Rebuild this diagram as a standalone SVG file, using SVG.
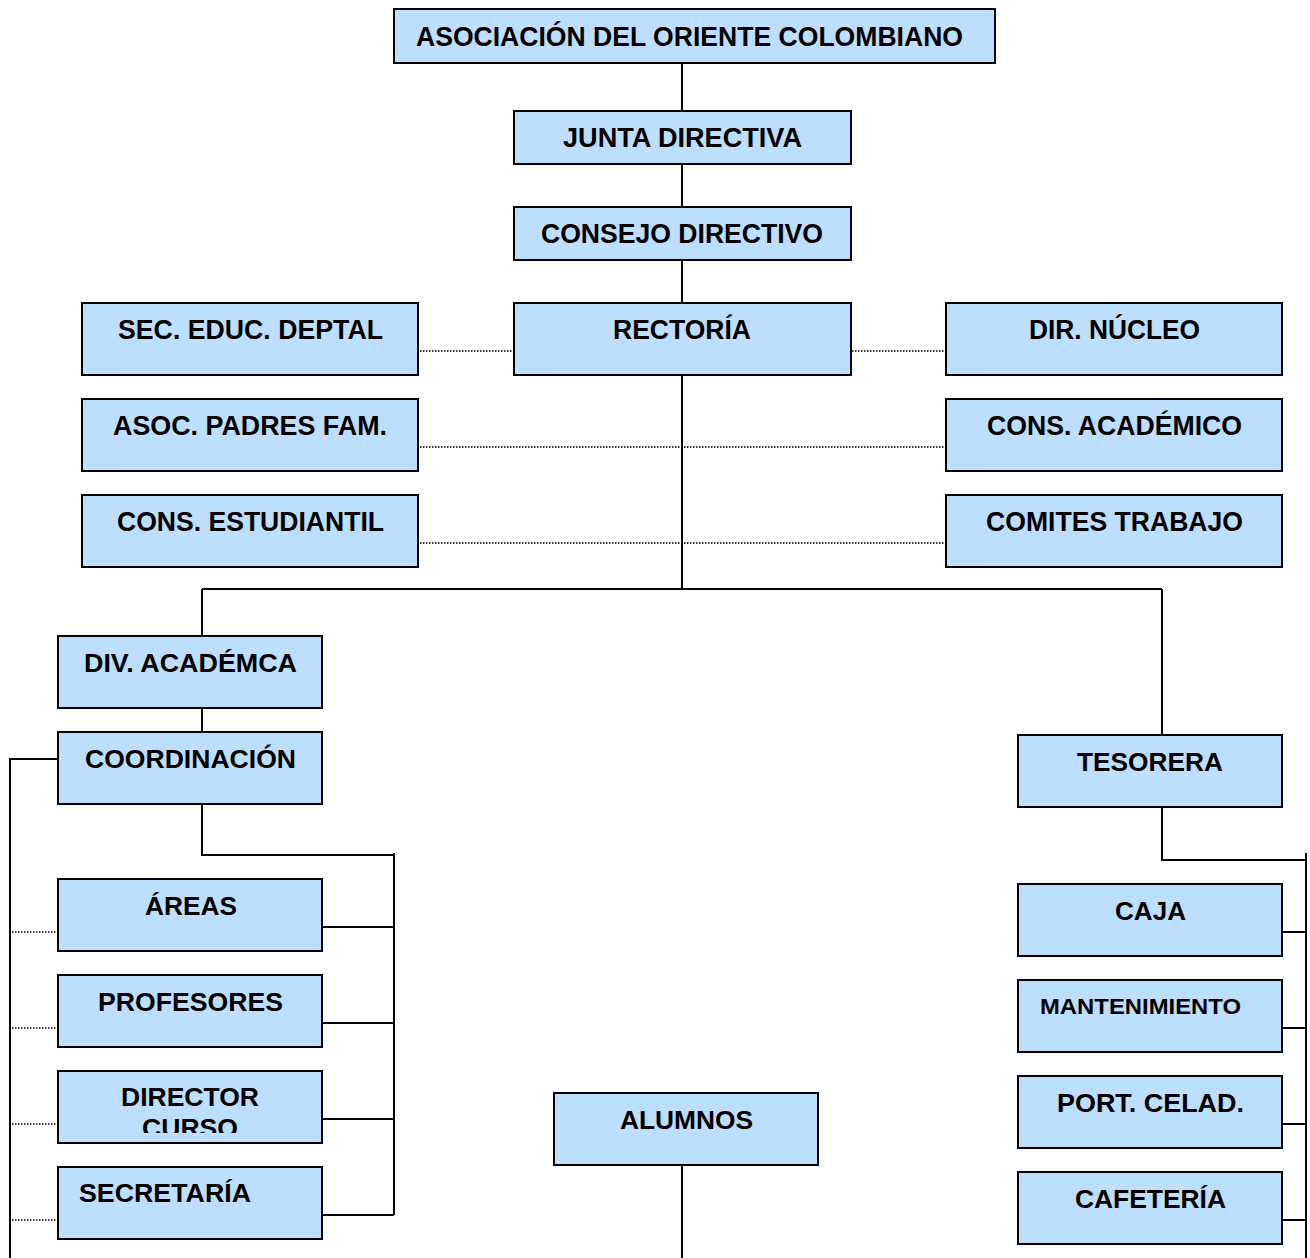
<svg xmlns="http://www.w3.org/2000/svg" width="1310" height="1258" viewBox="0 0 1310 1258">
<style>
.box{fill:#BDDEFC;stroke:#000;stroke-width:2}
.ln{fill:none;stroke:#000;stroke-width:2}
.dot{fill:none;stroke:#000;stroke-width:1.5;stroke-dasharray:1.5 1.5}
.n{font-family:"Liberation Sans Narrow","Liberation Sans",Arial,sans-serif;font-weight:bold;font-size:27px;fill:#000}
.w{font-family:"Liberation Sans",Arial,sans-serif;font-weight:bold;font-size:25px;fill:#000}
.s{font-family:"Liberation Sans",Arial,sans-serif;font-weight:bold;font-size:22px;fill:#000}
</style>
<defs>
<clipPath id="clipDir"><rect x="59" y="1072" width="262" height="61"/></clipPath>
</defs>
<rect width="1310" height="1258" fill="#fff"/>
<g id="connectors">
<path class="ln" d="M682 63V111M682 164V207M682 256V303M682 375V589M202 589H1162M202 589V636M1162 589V735"/>
<path class="ln" d="M202 708V732M58 759H10V1258M202 804V855H394M394 853V1215M322 927H394M322 1023H394M322 1119H394M322 1215H394"/>
<path class="ln" d="M1162 807V860H1306M1306 853V1258M1282 932H1306M1282 1028H1306M1282 1124H1306M1282 1220H1306"/>
<path class="ln" d="M682 1165V1258"/>
<path class="dot" d="M420 351H513M852 351H945M420 447H945M420 543H945"/>
<path class="dot" d="M12 932H57M12 1028H57M12 1124H57M12 1220H57"/>
</g>
<g id="n-asoc"><rect class="box" x="394" y="9" width="601" height="54"/><text class="n" x="416" y="46" textLength="547" lengthAdjust="spacingAndGlyphs">ASOCIACIÓN DEL ORIENTE COLOMBIANO</text></g>
<g id="n-junta"><rect class="box" x="514" y="111" width="337" height="53"/><text class="n" x="563" y="147" textLength="239" lengthAdjust="spacingAndGlyphs">JUNTA DIRECTIVA</text></g>
<g id="n-consejo"><rect class="box" x="514" y="207" width="337" height="53"/><text class="n" x="541" y="243" textLength="282" lengthAdjust="spacingAndGlyphs">CONSEJO DIRECTIVO</text></g>
<g id="n-rectoria"><rect class="box" x="514" y="303" width="337" height="72"/><text class="n" x="613" y="339" textLength="138" lengthAdjust="spacingAndGlyphs">RECTORÍA</text></g>
<g id="n-sec"><rect class="box" x="82" y="303" width="336" height="72"/><text class="n" x="118" y="339" textLength="265" lengthAdjust="spacingAndGlyphs">SEC. EDUC. DEPTAL</text></g>
<g id="n-dir"><rect class="box" x="946" y="303" width="336" height="72"/><text class="n" x="1029" y="339" textLength="171" lengthAdjust="spacingAndGlyphs">DIR. NÚCLEO</text></g>
<g id="n-padres"><rect class="box" x="82" y="399" width="336" height="72"/><text class="n" x="113" y="435" textLength="274" lengthAdjust="spacingAndGlyphs">ASOC. PADRES FAM.</text></g>
<g id="n-academico"><rect class="box" x="946" y="399" width="336" height="72"/><text class="n" x="987" y="435" textLength="255" lengthAdjust="spacingAndGlyphs">CONS. ACADÉMICO</text></g>
<g id="n-estudiantil"><rect class="box" x="82" y="495" width="336" height="72"/><text class="n" x="117" y="531" textLength="267" lengthAdjust="spacingAndGlyphs">CONS. ESTUDIANTIL</text></g>
<g id="n-comites"><rect class="box" x="946" y="495" width="336" height="72"/><text class="n" x="986" y="531" textLength="257" lengthAdjust="spacingAndGlyphs">COMITES TRABAJO</text></g>
<g id="n-div"><rect class="box" x="58" y="636" width="264" height="72"/><text class="w" x="84" y="672" textLength="213" lengthAdjust="spacingAndGlyphs">DIV. ACADÉMCA</text></g>
<g id="n-coord"><rect class="box" x="58" y="732" width="264" height="72"/><text class="w" x="85" y="768" textLength="211" lengthAdjust="spacingAndGlyphs">COORDINACIÓN</text></g>
<g id="n-areas"><rect class="box" x="58" y="879" width="264" height="72"/><text class="w" x="145" y="915" textLength="92" lengthAdjust="spacingAndGlyphs">ÁREAS</text></g>
<g id="n-prof"><rect class="box" x="58" y="975" width="264" height="72"/><text class="w" x="98" y="1011" textLength="185" lengthAdjust="spacingAndGlyphs">PROFESORES</text></g>
<g id="n-dircurso"><rect class="box" x="58" y="1071" width="264" height="72"/><g clip-path="url(#clipDir)"><text class="w" x="121" y="1106" textLength="138" lengthAdjust="spacingAndGlyphs">DIRECTOR</text><text class="w" x="142" y="1137" textLength="96" lengthAdjust="spacingAndGlyphs">CURSO</text></g></g>
<g id="n-secretaria"><rect class="box" x="58" y="1167" width="264" height="72"/><text class="w" x="79" y="1202" textLength="172" lengthAdjust="spacingAndGlyphs">SECRETARÍA</text></g>
<g id="n-tesorera"><rect class="box" x="1018" y="735" width="264" height="72"/><text class="w" x="1077" y="771" textLength="146" lengthAdjust="spacingAndGlyphs">TESORERA</text></g>
<g id="n-caja"><rect class="box" x="1018" y="884" width="264" height="72"/><text class="w" x="1115" y="920" textLength="71" lengthAdjust="spacingAndGlyphs">CAJA</text></g>
<g id="n-mant"><rect class="box" x="1018" y="980" width="264" height="72"/><text class="s" x="1040" y="1014" textLength="201" lengthAdjust="spacingAndGlyphs">MANTENIMIENTO</text></g>
<g id="n-port"><rect class="box" x="1018" y="1076" width="264" height="72"/><text class="w" x="1057" y="1112" textLength="187" lengthAdjust="spacingAndGlyphs">PORT. CELAD.</text></g>
<g id="n-cafe"><rect class="box" x="1018" y="1172" width="264" height="72"/><text class="w" x="1075" y="1208" textLength="151" lengthAdjust="spacingAndGlyphs">CAFETERÍA</text></g>
<g id="n-alumnos"><rect class="box" x="554" y="1093" width="264" height="72"/><text class="w" x="620" y="1129" textLength="133" lengthAdjust="spacingAndGlyphs">ALUMNOS</text></g>
</svg>
